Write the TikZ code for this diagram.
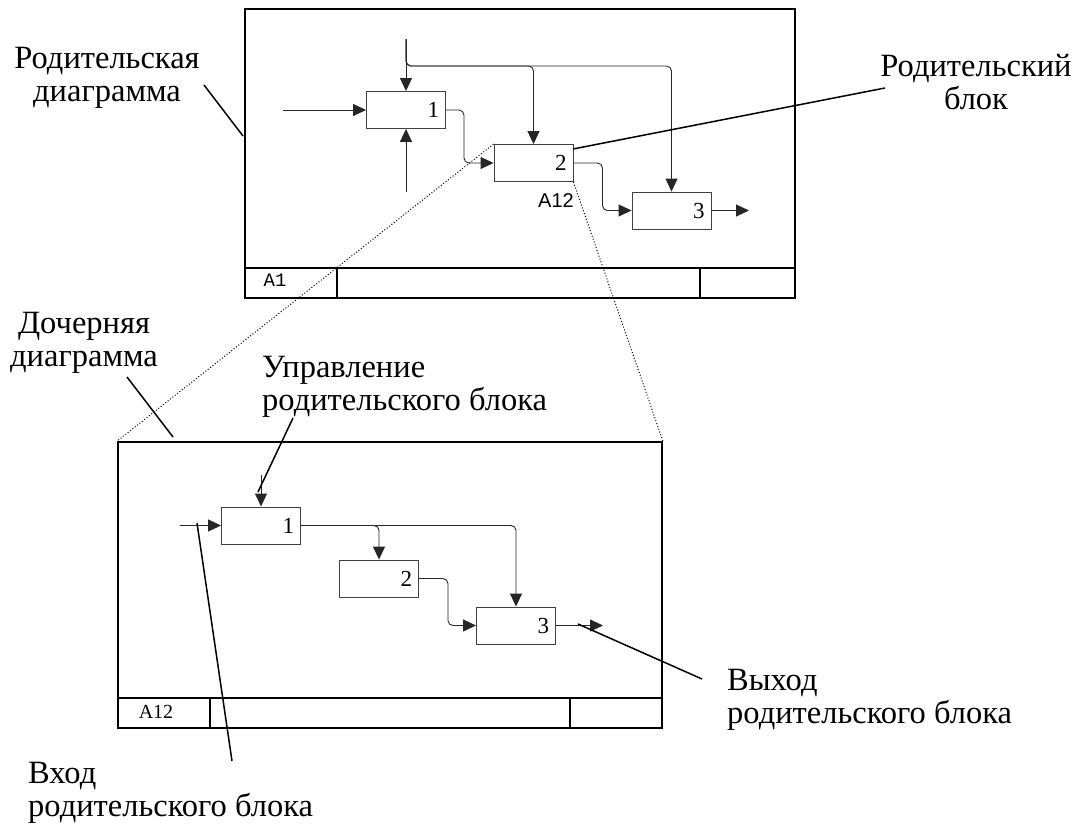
\documentclass[tikz,border=0pt]{standalone}
\usepackage{fontspec}
\setmainfont{Liberation Serif}
\newfontfamily\arialfont{Liberation Sans}
\newfontfamily\courfont{Liberation Mono}
\usepackage{tikz}
\usetikzlibrary{arrows.meta}

\begin{document}
\begin{tikzpicture}[x=1pt,y=-1pt,
                    frame/.style={draw,line width=1.8pt,inner sep=0pt},
                    blok/.style={draw=black!75,line width=0.9pt,minimum width=79pt,minimum height=37pt,
                                 text width=66pt,align=right,inner sep=6pt,font=\fontsize{23}{24}\selectfont},
                    arr/.style={-{Triangle[length=13pt,width=12pt]},draw=black!85,line width=0.9pt,rounded corners=5pt},
                    callout/.style={line width=1.5pt},
                    lbl/.style={inner sep=0pt,font=\fontsize{32.5}{33}\selectfont}]
  \useasboundingbox (0,0) rectangle (1077,827);

  %parent%
  \node[frame,minimum width=550pt,minimum height=289pt] (parent) at (520,153.5) {};
  \draw[frame] (245,268) -- (795,268) (337,268) -- (337,298) (700,268) -- (700,298);
  \node[font=\courfont\fontsize{19}{19}\selectfont] (tA1) at (275,280) {A1};

  \node[blok] (t1) at (406,110) {1};
  \node[blok] (t2) at (533.5,163) {2};
  \node[blok] (t3) at (671.5,210.5) {3};
  \node[font=\arialfont\fontsize{20}{20}\selectfont] (tA12) at (556,201) {A12};

  \coordinate (tIn) at (283,110);
  \coordinate (tCtl) at (406,39);
  \coordinate (tFork) at (406,66);
  \coordinate (tMech) at (406,192);
  \coordinate (tOut) at (749,210.5);

  \draw[arr] (tIn) -- (t1);
  \draw[arr] (tCtl) -- (t1);
  \draw[arr] (tMech) -- (t1);
  \draw[arr] (tCtl) |- (t2.north |- tFork) -- (t2.north);
  \draw[arr] (tCtl) |- (t3.north |- tFork) -- (t3.north);
  \draw[arr] (t1.east) -- ++(18,0) |- (t2.west);
  \draw[arr] (t2.east) -- ++(29,0) |- (t3.west);
  \draw[arr] (t3) -- (tOut);

  %child%
  \node[frame,minimum width=544pt,minimum height=286pt] (child) at (390,585) {};
  \draw[frame] (118,698) -- (662,698) (210,698) -- (210,728) (570,698) -- (570,728);
  \node[font=\fontsize{20}{20}\selectfont] (cA12) at (156,712) {A12};

  \node[blok] (c1) at (261,525.5) {1};
  \node[blok] (c2) at (379,578.5) {2};
  \node[blok] (c3) at (516,625.5) {3};

  \coordinate (cIn) at (180,525.5);
  \coordinate (cCtl) at (261,475);
  \coordinate (cOut) at (603,625.5);

  \draw[arr] (cIn) -- (c1);
  \draw[arr] (cCtl) -- (c1);
  \draw[arr] (c1.east) -| (c2.north);
  \draw[arr] (c1.east) -| (c3.north);
  \draw[arr] (c2.east) -- ++(29,0) |- (c3.west);
  \draw[arr] (c3) -- (cOut);

  %zoom lines%
  \draw[line width=1pt,dash pattern=on 1pt off 2pt] (t2.north west) -- (child.north west)
                                                    (t2.south east) -- (child.north east);

  %labels%
  \node[lbl,align=center,anchor=base] (lParent) at (107,101) {Родительская\\диаграмма};
  \node[lbl,align=center,anchor=base] (lBlock) at (976,109) {Родительский\\блок};
  \node[lbl,align=center,anchor=base] (lChild) at (84,366) {Дочерняя\\диаграмма};
  \node[lbl,align=left,anchor=base west] (lCtl) at (262,410) {Управление\\родительского блока};
  \node[lbl,align=left,anchor=base west] (lOut) at (727,723) {Выход\\родительского блока};
  \node[lbl,align=left,anchor=base west] (lIn) at (28,816) {Вход\\родительского блока};

  \coordinate (aParent1) at (204,85);  \coordinate (aParent2) at (243,136);
  \coordinate (aBlock1) at (885,88);   \coordinate (aBlock2) at (573,149);
  \coordinate (aChild1) at (127,377);  \coordinate (aChild2) at (173,437);
  \coordinate (aCtl1) at (293,418);    \coordinate (aCtl2) at (258,492);
  \coordinate (aOut1) at (702,679);    \coordinate (aOut2) at (578,624);
  \coordinate (aIn1) at (232,761);     \coordinate (aIn2) at (197,523);

  \draw[callout] (aParent1) -- (aParent2);
  \draw[callout] (aBlock1) -- (aBlock2);
  \draw[callout] (aChild1) -- (aChild2);
  \draw[callout] (aCtl1) -- (aCtl2);
  \draw[callout] (aOut1) -- (aOut2);
  \draw[callout] (aIn1) -- (aIn2);
\end{tikzpicture}
\end{document}
